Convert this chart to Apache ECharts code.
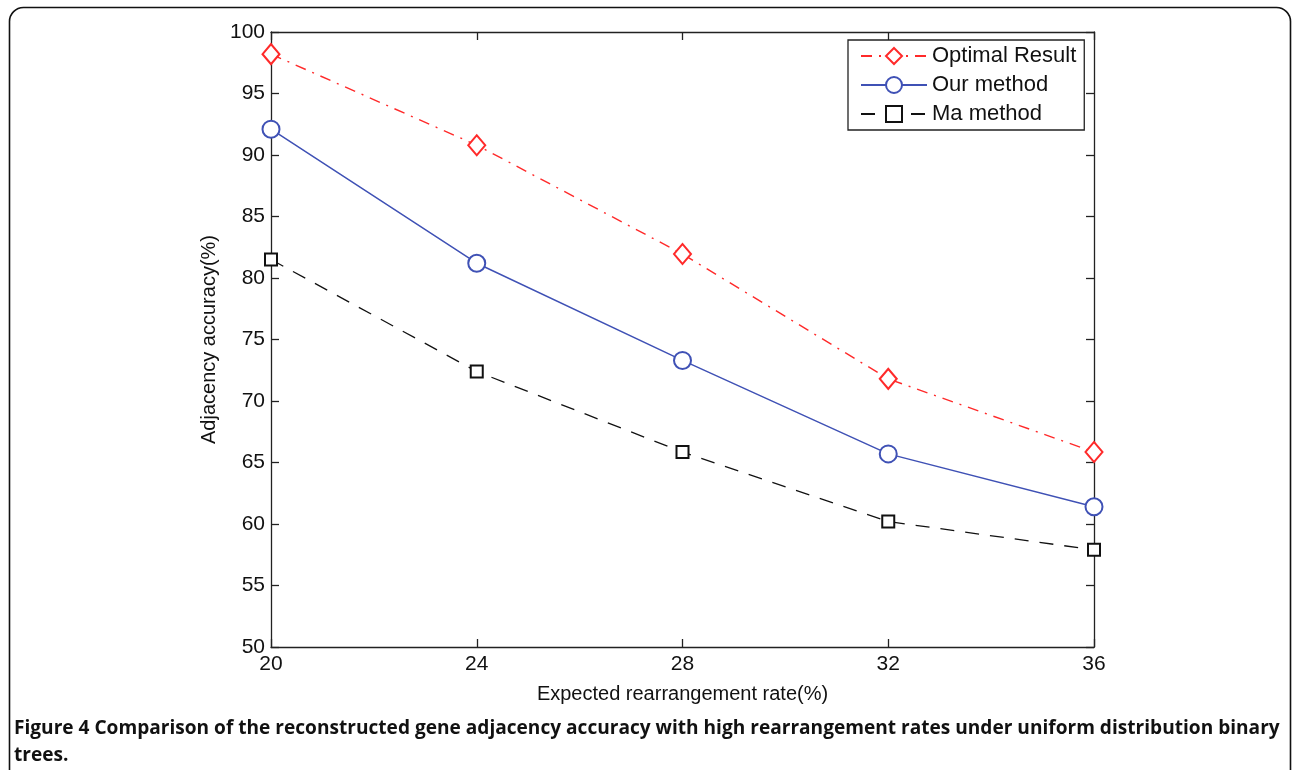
<!DOCTYPE html>
<html lang="en">
<head>
    <meta charset="UTF-8">
    <title>Figure 4</title>
    <script src="https://cdn.jsdelivr.net/npm/echarts@6/dist/echarts.min.js"></script>
</head>
<style>
    html,body{
        margin:0;
        padding:0;
        background:#fff;
    }
    #chart{
        width:1292px;
        height:770px;
    }
</style>
<body>
    <div id="chart"></div>
    <script>
        var rates=[20,24,28,32,36];
        var optimal=[98.2,90.8,81.95,71.8,65.85];
        var ours=[92.1,81.2,73.3,65.7,61.4];
        var ma=[81.5,72.4,65.85,60.2,57.9];
        var seriesNames=['Optimal Result','Our method','Ma method'];

        function pairs(vals){
            return rates.map(function(r,i){return [r,vals[i]];});
        }

        var chart=echarts.init(document.getElementById('chart'));
        var font='Liberation Sans, Arial, sans-serif';
        var axisLine={show:true,lineStyle:{color:'#222',width:1.3}};
        var tick={show:true,inside:true,length:8,lineStyle:{color:'#222',width:1.3}};

        var option={
            animation:false,
            grid:{left:271,right:198,top:32,bottom:123},
            legend:{
                data:seriesNames,
                orient:'vertical',
                left:848,
                top:40,
                padding:[5,8,5,12],
                itemGap:7,
                itemWidth:66,
                itemHeight:20,
                borderColor:'#222',
                borderWidth:1.3,
                backgroundColor:'#fff',
                textStyle:{fontFamily:font,fontSize:22,color:'#111'}
            },
            xAxis:[{
                type:'value',
                min:20,max:36,interval:4,
                name:'Expected rearrangement rate(%)',
                nameLocation:'middle',
                nameGap:37,
                nameTextStyle:{fontFamily:font,fontSize:20,color:'#111'},
                axisLine:axisLine,axisTick:tick,
                axisLabel:{fontFamily:font,fontSize:21,color:'#111',margin:7},
                splitLine:{show:false}
            },{
                type:'value',position:'top',
                min:20,max:36,interval:4,
                axisLine:axisLine,axisTick:tick,
                axisLabel:{show:false},splitLine:{show:false}
            }],
            yAxis:[{
                type:'value',
                min:50,max:100,interval:5,
                name:'Adjacency accuracy(%)',
                nameLocation:'middle',
                nameGap:52,
                nameTextStyle:{fontFamily:font,fontSize:20,color:'#111'},
                axisLine:axisLine,axisTick:tick,
                axisLabel:{fontFamily:font,fontSize:21,color:'#111',margin:6},
                splitLine:{show:false}
            },{
                type:'value',position:'right',
                min:50,max:100,interval:5,
                axisLine:axisLine,axisTick:tick,
                axisLabel:{show:false},splitLine:{show:false}
            }],
            series:[{
                name:seriesNames[0],
                type:'line',
                data:pairs(optimal),
                symbol:'emptyDiamond',
                symbolSize:[17,20],
                itemStyle:{color:'#ff2a2a',borderWidth:1.5},
                lineStyle:{color:'#ff2a2a',width:1.4,type:[11,7,2,7]}
            },{
                name:seriesNames[1],
                type:'line',
                data:pairs(ours),
                symbol:'emptyCircle',
                symbolSize:17,
                itemStyle:{color:'#3f51b5',borderWidth:1.5},
                lineStyle:{color:'#3f51b5',width:1.5}
            },{
                name:seriesNames[2],
                type:'line',
                data:pairs(ma),
                symbol:'emptyRect',
                symbolSize:12,
                itemStyle:{color:'#111',borderWidth:1.4},
                lineStyle:{color:'#111',width:1.3,type:[14,11]}
            }],
            graphic:[{
                type:'rect',
                shape:{x:9.5,y:7.5,width:1281,height:800,r:14},
                style:{fill:'none',stroke:'#111',lineWidth:1.6},
                silent:true
            },{
                type:'text',
                left:14,top:719,
                style:{
                    text:'Figure 4 Comparison of the reconstructed gene adjacency accuracy with high rearrangement rates under uniform distribution binary',
                    font:'bold 19.1px "Open Sans", sans-serif',
                    fill:'#111'
                }
            },{
                type:'text',
                left:14,top:746,
                style:{
                    text:'trees.',
                    font:'bold 19.1px "Open Sans", sans-serif',
                    fill:'#111'
                }
            }]
        };
        chart.setOption(option);
    </script>
</body>
</html>
